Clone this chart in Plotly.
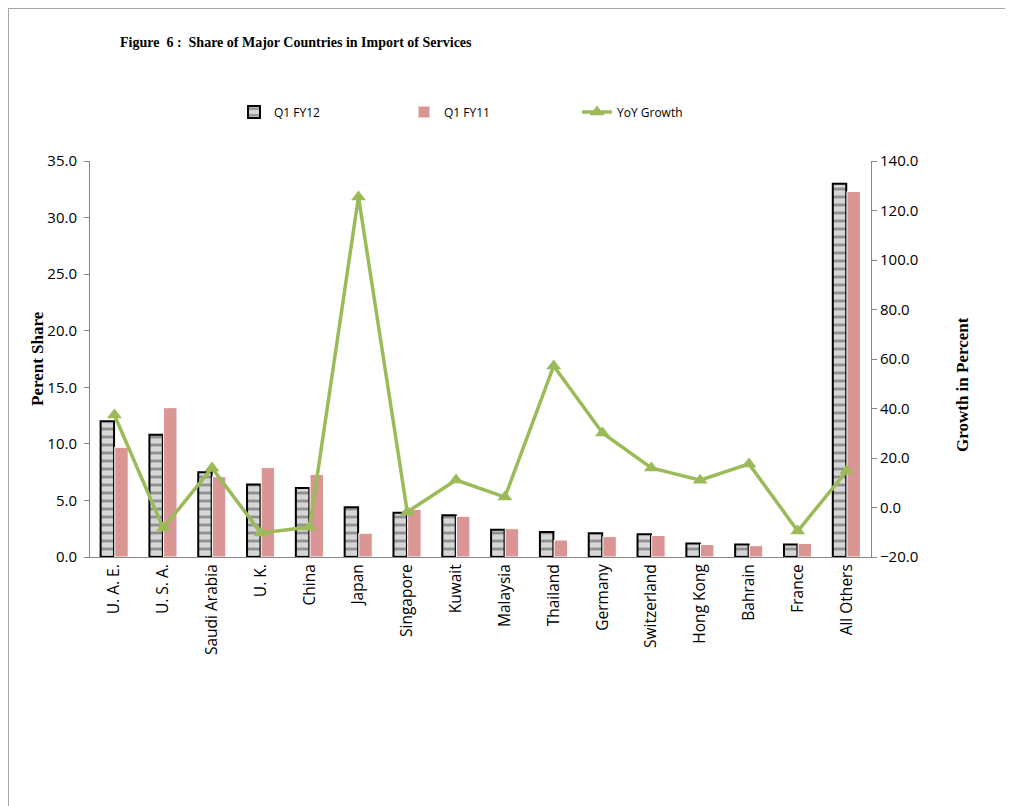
import plotly.graph_objects as go

countries = ["U. A. E.", "U. S. A.", "Saudi Arabia", "U. K.", "China", "Japan", "Singapore",
             "Kuwait", "Malaysia", "Thailand", "Germany", "Switzerland", "Hong Kong",
             "Bahrain", "France", "All Others"]
q1_fy12 = [12.0, 10.8, 7.5, 6.4, 6.1, 4.4, 3.9, 3.7, 2.4, 2.2, 2.1, 2.0, 1.2, 1.1, 1.1, 33.0]
q1_fy11 = [9.7, 13.2, 7.1, 7.9, 7.3, 2.1, 4.2, 3.6, 2.5, 1.5, 1.8, 1.9, 1.1, 1.0, 1.2, 32.3]
yoy_growth = [37.4, -8.3, 16.0, -10.3, -7.9, 125.5, -1.8, 11.1, 4.2, 57.2, 30.1, 16.0, 11.0,
              17.6, -9.5, 14.7]

left_ticks = [0, 5, 10, 15, 20, 25, 30, 35]
right_ticks = [-20, 0, 20, 40, 60, 80, 100, 120, 140]

# figure is placed 8px inside the page (body margin)
W, H = 1005, 798
L, R, T, B = 82, 863, 153, 549


def px2x(px):
    return (px - L) / (R - L)


def py2y(py):
    return (B - py) / (B - T)


fig = go.Figure()
fig.add_trace(go.Bar(
    x=countries, y=q1_fy12, name="Q1 FY12", legend="legend", showlegend=True,
    marker=dict(color="#d6d6d6", line=dict(color="black", width=2),
                pattern=dict(shape="-", fgcolor="#4a4a4a", size=8, solidity=0.35,
                             fillmode="overlay")),
))
fig.add_trace(go.Bar(
    x=countries, y=q1_fy11, name="Q1 FY11", legend="legend2", showlegend=True,
    marker=dict(color="#D99694", line=dict(color="white", width=1)),
))
fig.add_trace(go.Scatter(
    x=countries, y=yoy_growth, name="YoY Growth", yaxis="y2", legend="legend3",
    showlegend=True, mode="lines+markers",
    line=dict(color="#9BBB59", width=3.5),
    marker=dict(symbol="triangle-up", size=13, color="#9BBB59"),
))

xtickfont = dict(family="Open Sans, sans-serif", size=15.5, color="black")
ytickfont = dict(family="Open Sans, sans-serif", size=15, color="black")
titlefont = dict(family="Liberation Serif, Times New Roman, serif", size=17, color="black")
legfont = dict(family="Open Sans, sans-serif", size=12, color="black")


def legend_at(px):
    return dict(orientation="h", x=px2x(px), y=py2y(104), xanchor="left",
                yanchor="middle", font=legfont, bgcolor="rgba(0,0,0,0)")


fig.update_layout(
    width=W, height=H,
    showlegend=True,
    margin=dict(l=L, r=W - R, t=T, b=H - B),
    paper_bgcolor="white", plot_bgcolor="white",
    barmode="group", bargap=0.42, bargroupgap=0.05,
    title=dict(text="<b>Figure  6 :  Share of Major Countries in Import of Services</b>",
               x=112 / W, xref="container", xanchor="left",
               y=1 - 34 / H, yref="container", yanchor="middle",
               font=dict(family="Liberation Serif, Times New Roman, serif", size=14,
                         color="black")),
    legend=legend_at(226),
    legend2=legend_at(396),
    legend3=legend_at(569),
    xaxis=dict(range=[-0.5, 15.5], tickangle=-90, tickfont=xtickfont, showline=True,
               linecolor="#868686", linewidth=1, ticks="", showgrid=False),
    yaxis=dict(range=[0, 35], tickvals=left_ticks, tickformat=".1f", tickfont=ytickfont,
               showline=True, linecolor="#868686", linewidth=1, ticks="outside",
               ticklen=5, tickcolor="#868686", showgrid=False, zeroline=False,
               ticklabelstandoff=4),
    yaxis2=dict(range=[-20, 140], tickvals=right_ticks, tickformat=".1f", tickfont=ytickfont,
                overlaying="y", side="right",
                showline=True, linecolor="#868686", linewidth=1, ticks="outside",
                ticklen=5, tickcolor="#868686", showgrid=False, zeroline=False),
    annotations=[
        dict(text="<b>Perent Share</b>", textangle=-90, xref="paper", yref="paper",
             x=px2x(29), y=py2y(351), xanchor="center", yanchor="middle",
             showarrow=False, font=titlefont),
        dict(text="<b>Growth in Percent</b>", textangle=-90, xref="paper", yref="paper",
             x=px2x(954), y=py2y(377), xanchor="center", yanchor="middle",
             showarrow=False, font=titlefont),
    ],
    shapes=[
        dict(type="line", xref="paper", yref="paper", x0=px2x(0.5), x1=px2x(0.5),
             y0=py2y(0), y1=py2y(H), line=dict(color="#a6a6a6", width=1)),
        dict(type="line", xref="paper", yref="paper", x0=px2x(0), x1=px2x(W),
             y0=py2y(0.5), y1=py2y(0.5), line=dict(color="#a6a6a6", width=1)),
    ],
)

fig.write_html("out.html")
